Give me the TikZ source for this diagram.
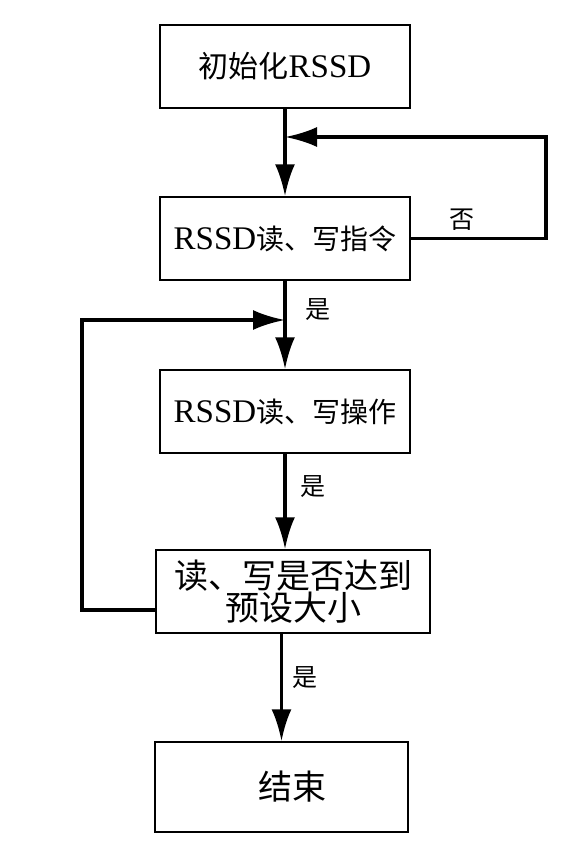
\documentclass[tikz,border=0pt]{standalone}
\usepackage{fontspec}
\setmainfont{Liberation Serif}
\newfontfamily\cjk{Noto Sans CJK SC}
\usetikzlibrary{arrows.meta,positioning,calc}

\begin{document}
\begin{tikzpicture}[x=1pt, y=-1pt,
                    box/.style = {draw, line width=1.5pt, minimum width=250pt, minimum height=83pt,
                                  inner sep=0pt, align=center, font=\fontsize{33}{32}\selectfont},
                    marrow/.style = {line width=3.5pt, arrows = {-Latex[width=20pt, length=32pt]}},
                    lbl/.style = {font=\cjk\fontsize{25}{26}\selectfont}
                ]
                \useasboundingbox (0,0) rectangle (577,856);

                % boxes
                \node[box] (init) at (285,66.5) {{\cjk\fontsize{30}{32}\selectfont 初始化}RSSD};
                \node[box] (cmd) at (285,238.5) {RSSD{\cjk\fontsize{28}{32}\selectfont 读、写指令}};
                \node[box] (op) at (285,411.5) {RSSD{\cjk\fontsize{28}{32}\selectfont 读、写操作}};
                \node[box, minimum width=274pt, font=\cjk\fontsize{34}{32}\selectfont] (chk) at (293,591.5)
                    {读、写是否达到\\预设大小};
                \node[box, minimum width=253pt, minimum height=90pt, font=\cjk\fontsize{34}{32}\selectfont] (end)
                    at (281.5,787) {\hspace*{22pt}结束};

                \coordinate (j1) at (285,137);
                \coordinate (j2) at (285,320);
                \coordinate (back) at (156,610);

                % main flow
                \draw[marrow] (init.south) -- (cmd.north);
                \draw[marrow] (cmd.south) -- (op.north);
                \draw[marrow] (op.south) -- (op.south |- chk.north);
                \draw[marrow] (chk.south -| end.north) -- (end.north);

                % loops
                \draw[marrow] (cmd.east) -- ++(135,0) |- (j1);
                \draw[marrow] (back) -- ++(-74,0) |- (j2);

                % labels
                \node[lbl] (no) at (462,220) {否};
                \node[lbl] (yes1) at (318,310) {是};
                \node[lbl] (yes2) at (313,487) {是};
                \node[lbl] (yes3) at (305,678) {是};

            \end{tikzpicture}
\end{document}
